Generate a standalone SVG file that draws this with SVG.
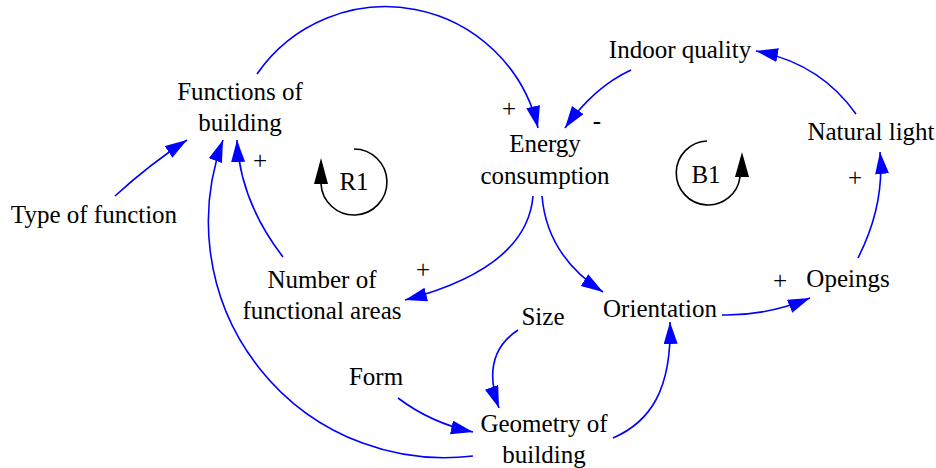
<svg xmlns="http://www.w3.org/2000/svg" width="936" height="468" viewBox="0 0 936 468">
<style>
text{font-size:25px;fill:#000;text-anchor:middle}
.c{fill:none;stroke:#0000FF;stroke-width:1.6;marker-end:url(#ah)}
.loop{fill:none;stroke:#000;stroke-width:1.6}
</style>
<defs>
<marker id="ah" markerWidth="24" markerHeight="16" refX="22" refY="7" orient="auto" markerUnits="userSpaceOnUse">
<path d="M0,0 L22,7 L0,14 z" fill="#0000FF"/>
</marker>
</defs>
<rect width="936" height="468" fill="#fff"/>
<g id="connectors">
<path class="c" d="M257,74 A156.4,156.4 0 0 1 538,128"/>
<path class="c" d="M631,70 Q594,87 565,128"/>
<path class="c" d="M856,114 Q820,63 756,51"/>
<path class="c" d="M858,258 Q885,205 880,152"/>
<path class="c" d="M722,315 Q766,316 810,298"/>
<path class="c" d="M542,196 Q547,256 603,292"/>
<path class="c" d="M533,196 Q527,268 405,300"/>
<path class="c" d="M283,257 Q240,201 237,140"/>
<path class="c" d="M473,456 A236,236 0 0 1 223,140"/>
<path class="c" d="M115,196 Q150,164 187,140"/>
<path class="c" d="M518,330 Q480,355 499,408"/>
<path class="c" d="M398,398 Q431,423 473,432"/>
<path class="c" d="M613,438 C650,422 672,390 670,322"/>
</g>
<g font-family="'Liberation Serif', 'Times New Roman', Tinos, 'DejaVu Serif', serif">
<g id="functions_of_building"><text x="240" y="100">Functions of</text><text x="240" y="131">building</text></g>
<g id="energy_consumption"><text x="545" y="152">Energy</text><text x="545" y="184">consumption</text></g>
<g id="indoor_quality"><text x="680" y="58">Indoor quality</text></g>
<g id="natural_light"><text x="871" y="140">Natural light</text></g>
<g id="type_of_function"><text x="94" y="223">Type of function</text></g>
<g id="number_of_functional_areas"><text x="322" y="288">Number of</text><text x="322" y="319">functional areas</text></g>
<g id="size"><text x="543" y="325">Size</text></g>
<g id="orientation"><text x="660" y="317">Orientation</text></g>
<g id="opeings"><text x="848" y="287">Opeings</text></g>
<g id="form"><text x="376" y="385">Form</text></g>
<g id="geometry_of_building"><text x="544" y="432">Geometry of</text><text x="544" y="463">building</text></g>
<g id="polarities">
<text x="509" y="117">+</text>
<text x="597" y="129">-</text>
<text x="260" y="169">+</text>
<text x="423" y="278">+</text>
<text x="780" y="289">+</text>
<text x="855" y="186">+</text>
</g>
<g id="loop_R1">
<path class="loop" d="M354,149 A33,33 0 1 1 321,184"/>
<path d="M321,158 L314,184 L328,184 z" fill="#000"/>
<text x="354" y="190">R1</text>
</g>
<g id="loop_B1">
<path class="loop" d="M707,141 A32,32 0 1 0 740,177"/>
<path d="M742,152 L735,177 L749,177 z" fill="#000"/>
<text x="706" y="183">B1</text>
</g>
</g>
</svg>
